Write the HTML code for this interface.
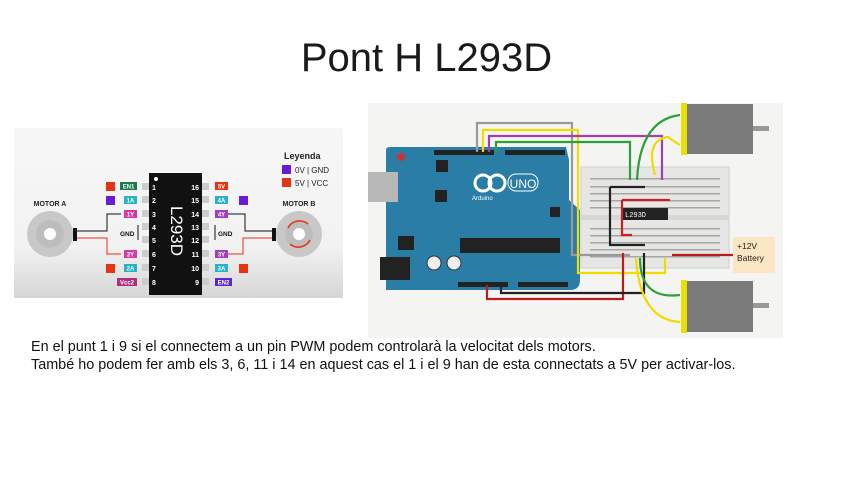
<!DOCTYPE html>
<html><head><meta charset="utf-8"><style>
html,body{margin:0;padding:0;background:#fff;width:853px;height:480px;overflow:hidden;font-family:"Liberation Sans",sans-serif}
.t{position:absolute;left:0;width:853px;top:36px;text-align:center;font-size:40px;color:#1a1a1a;font-weight:300}
.p{position:absolute;left:31px;top:338px;font-size:14.4px;line-height:18px;color:#111}
svg{position:absolute;left:0;top:0}
</style></head><body>
<div class="t">Pont H L293D</div>
<svg width="853" height="480" font-family="Liberation Sans, sans-serif">
<defs><linearGradient id="g" x1="0" y1="0" x2="0" y2="1"><stop offset="0" stop-color="#f7f7f7"/><stop offset="0.7" stop-color="#f2f2f2"/><stop offset="1" stop-color="#d6d6d6"/></linearGradient></defs>
<rect x="14" y="128" width="329" height="170" fill="url(#g)"/>
<text x="284" y="159" font-size="9" font-weight="bold" fill="#222">Leyenda</text>
<rect x="282" y="165" width="9" height="9" fill="#6a1bd8"/><text x="295" y="173" font-size="8" fill="#222">0V | GND</text>
<rect x="282" y="178" width="9" height="9" fill="#e63312"/><text x="295" y="186" font-size="8" fill="#222">5V | VCC</text>
<text x="50" y="206" font-size="7" font-weight="bold" text-anchor="middle" fill="#222">MOTOR A</text>
<text x="299" y="206" font-size="7" font-weight="bold" text-anchor="middle" fill="#222">MOTOR B</text>
<circle cx="50" cy="234" r="23" fill="#c8c8c8"/><circle cx="50" cy="234" r="14" fill="#bdbdbd"/><circle cx="50" cy="234" r="6" fill="#fff"/>
<rect x="73" y="228" width="4" height="13" fill="#111"/>
<circle cx="299" cy="234" r="23" fill="#c8c8c8"/><circle cx="299" cy="234" r="14" fill="#bdbdbd"/><circle cx="299" cy="234" r="6" fill="#fff"/>
<rect x="272" y="228" width="4" height="13" fill="#111"/>
<path d="M288 228 A13 13 0 0 1 308 224 M310 240 A13 13 0 0 1 290 244" stroke="#e63312" stroke-width="1.5" fill="none"/>
<path d="M77 231 H107 V214 H121" stroke="#111" fill="none"/>
<path d="M77 238 H107 V254 H121" stroke="#e63312" fill="none"/>
<path d="M227 214 H245 V231 H272" stroke="#111" fill="none"/>
<path d="M227 254 H243 V238 H272" stroke="#e63312" fill="none"/>
<line x1="138" y1="225" x2="138" y2="240" stroke="#111"/><line x1="215" y1="225" x2="215" y2="240" stroke="#111"/>
<text x="120" y="236" font-size="6.5" font-weight="bold" fill="#111">GND</text>
<text x="218" y="236" font-size="6.5" font-weight="bold" fill="#111">GND</text>
<rect x="149" y="173" width="53" height="122" fill="#111"/>
<circle cx="156" cy="179" r="2" fill="#fff"/>
<text x="176" y="236" font-size="17" fill="#fff" text-anchor="middle" transform="rotate(90 176 231)">L293D</text>
<g font-size="7" font-weight="bold">
<g fill="#ccc">
<rect x="142" y="183" width="7" height="7"/><rect x="142" y="196" width="7" height="7"/><rect x="142" y="210" width="7" height="7"/><rect x="142" y="223" width="7" height="7"/><rect x="142" y="236" width="7" height="7"/><rect x="142" y="250" width="7" height="7"/><rect x="142" y="264" width="7" height="7"/><rect x="142" y="278" width="7" height="7"/>
<rect x="202" y="183" width="7" height="7"/><rect x="202" y="196" width="7" height="7"/><rect x="202" y="210" width="7" height="7"/><rect x="202" y="223" width="7" height="7"/><rect x="202" y="236" width="7" height="7"/><rect x="202" y="250" width="7" height="7"/><rect x="202" y="264" width="7" height="7"/><rect x="202" y="278" width="7" height="7"/>
</g>
<g fill="#fff">
<text x="152" y="190">1</text><text x="152" y="203">2</text><text x="152" y="217">3</text><text x="152" y="230">4</text><text x="152" y="243">5</text><text x="152" y="257">6</text><text x="152" y="271">7</text><text x="152" y="285">8</text>
<text x="199" y="190" text-anchor="end">16</text><text x="199" y="203" text-anchor="end">15</text><text x="199" y="217" text-anchor="end">14</text><text x="199" y="230" text-anchor="end">13</text><text x="199" y="243" text-anchor="end">12</text><text x="199" y="257" text-anchor="end">11</text><text x="199" y="271" text-anchor="end">10</text><text x="199" y="285" text-anchor="end">9</text>
</g>
<g font-size="6">
<rect x="120" y="182" width="17" height="8" fill="#1e7a4a"/><text x="128.5" y="188.5" fill="#fff" text-anchor="middle">EN1</text>
<rect x="124" y="196" width="13" height="8" fill="#2ab0c8"/><text x="130.5" y="202.5" fill="#fff" text-anchor="middle">1A</text>
<rect x="124" y="210" width="13" height="8" fill="#d63aa0"/><text x="130.5" y="216.5" fill="#fff" text-anchor="middle">1Y</text>
<rect x="124" y="250" width="13" height="8" fill="#d63aa0"/><text x="130.5" y="256.5" fill="#fff" text-anchor="middle">2Y</text>
<rect x="124" y="264" width="13" height="8" fill="#2ab0c8"/><text x="130.5" y="270.5" fill="#fff" text-anchor="middle">2A</text>
<rect x="117" y="278" width="20" height="8" fill="#b0307a"/><text x="127" y="284.5" fill="#fff" text-anchor="middle">Vcc2</text>
<rect x="215" y="182" width="13" height="8" fill="#e63312"/><text x="221.5" y="188.5" fill="#fff" text-anchor="middle">5V</text>
<rect x="215" y="196" width="13" height="8" fill="#2ab0c8"/><text x="221.5" y="202.5" fill="#fff" text-anchor="middle">4A</text>
<rect x="215" y="210" width="13" height="8" fill="#a040c0"/><text x="221.5" y="216.5" fill="#fff" text-anchor="middle">4Y</text>
<rect x="215" y="250" width="13" height="8" fill="#a040c0"/><text x="221.5" y="256.5" fill="#fff" text-anchor="middle">3Y</text>
<rect x="215" y="264" width="13" height="8" fill="#2ab0c8"/><text x="221.5" y="270.5" fill="#fff" text-anchor="middle">3A</text>
<rect x="215" y="278" width="17" height="8" fill="#5a2ad0"/><text x="223.5" y="284.5" fill="#fff" text-anchor="middle">EN2</text>
</g>
</g>
<rect x="106" y="182" width="9" height="9" fill="#e63312"/><rect x="106" y="196" width="9" height="9" fill="#6a1bd8"/><rect x="106" y="264" width="9" height="9" fill="#e63312"/>
<rect x="239" y="196" width="9" height="9" fill="#6a1bd8"/><rect x="239" y="264" width="9" height="9" fill="#e63312"/>

<rect x="368" y="103" width="415" height="235" fill="#f4f4f2"/>
<rect x="581" y="167" width="148" height="101" fill="#e6e6e4" stroke="#d0d0d0"/>
<rect x="581" y="215" width="148" height="5" fill="#d6d6d4"/>
<g fill="#666">
<rect x="590" y="178" width="130" height="1.5" opacity=".5"/><rect x="590" y="186" width="130" height="1.5" opacity=".5"/><rect x="590" y="193" width="130" height="1.5" opacity=".5"/><rect x="590" y="200" width="130" height="1.5" opacity=".5"/><rect x="590" y="207" width="130" height="1.5" opacity=".5"/>
<rect x="590" y="228" width="130" height="1.5" opacity=".5"/><rect x="590" y="235" width="130" height="1.5" opacity=".5"/><rect x="590" y="242" width="130" height="1.5" opacity=".5"/><rect x="590" y="249" width="130" height="1.5" opacity=".5"/><rect x="590" y="256" width="130" height="1.5" opacity=".5"/>
</g>
<path d="M386 150 Q386 147 390 147 H566 L569 160 V200 L580 210 V280 Q580 290 570 290 H386 Z" fill="#2a7ea6"/>
<rect x="368" y="172" width="30" height="30" fill="#b8b8b8"/>
<rect x="380" y="257" width="30" height="23" fill="#222"/>
<circle cx="434" cy="263" r="7" fill="#eee" stroke="#333"/><circle cx="454" cy="263" r="7" fill="#eee" stroke="#333"/>
<rect x="460" y="238" width="100" height="15" fill="#222"/>
<rect x="434" y="150" width="60" height="5" fill="#222"/><rect x="505" y="150" width="60" height="5" fill="#222"/>
<rect x="458" y="282" width="50" height="5" fill="#222"/><rect x="518" y="282" width="50" height="5" fill="#222"/>
<circle cx="401" cy="157" r="4" fill="#c33"/>
<rect x="436" y="160" width="12" height="12" fill="#222"/>
<rect x="435" y="190" width="12" height="12" fill="#222"/>
<rect x="550" y="207" width="10" height="10" fill="#222"/>
<rect x="398" y="236" width="16" height="14" fill="#222"/>
<circle cx="483" cy="183" r="8" fill="none" stroke="#fff" stroke-width="3"/><circle cx="497" cy="183" r="8" fill="none" stroke="#fff" stroke-width="3"/>
<rect x="508" y="174" width="30" height="17" rx="8" fill="none" stroke="#fff"/><text x="523" y="188" font-size="12" fill="#fff" text-anchor="middle">UNO</text>
<text x="472" y="200" font-size="6" fill="#fff">Arduino</text>
<rect x="621" y="208" width="47" height="12" fill="#222"/><text x="625" y="217" font-size="7" fill="#fff" font-family="Liberation Mono">L293D</text>
<g fill="none" stroke-width="2.2">
<path d="M477 152 V123 H572 V255 H630" stroke="#999"/>
<path d="M483 152 V130 H578 V273 H665 V258" stroke="#f0dc00"/>
<path d="M489 152 V136 H662 V180" stroke="#a040a8"/>
<path d="M496 152 V142 H630 V180" stroke="#2aa03a"/>
<path d="M487 285 V299 H623 V253" stroke="#b81c1c"/>
<path d="M501 285 V293 H644 V253" stroke="#222"/>
<path d="M610 187 H645 M610 187 V245 H645" stroke="#222"/>
<path d="M622 200 H670 M622 200 V235 H632" stroke="#c82020"/>
<path d="M672 255 H733" stroke="#b81c1c"/>
<path d="M637 180 Q640 120 680 115" stroke="#2aa03a"/>
<path d="M655 175 Q645 140 668 137 Q672 140 680 145" stroke="#f0dc00"/>
<path d="M640 258 Q640 300 680 295" stroke="#2aa03a"/>
<path d="M636 258 Q640 320 680 322" stroke="#f0dc00"/>
</g>
<rect x="681" y="103" width="6" height="52" fill="#e8e000"/><rect x="687" y="104" width="66" height="50" fill="#7a7a7a"/><rect x="753" y="126" width="16" height="5" fill="#999"/>
<rect x="681" y="280" width="6" height="53" fill="#e8e000"/><rect x="687" y="281" width="66" height="51" fill="#7a7a7a"/><rect x="753" y="303" width="16" height="5" fill="#999"/>
<rect x="733" y="237" width="42" height="36" fill="#fbe6c4"/>
<text x="737" y="249" font-size="8.5" fill="#222">+12V</text><text x="737" y="261" font-size="8.5" fill="#222">Battery</text>
</svg>
<div class="p">En el punt 1 i 9 si el connectem a un pin PWM podem controlarà la velocitat dels motors.<br>També ho podem fer amb els 3, 6, 11 i 14 en aquest cas el 1 i el 9 han de esta connectats a 5V per activar-los.</div>
</body></html>
